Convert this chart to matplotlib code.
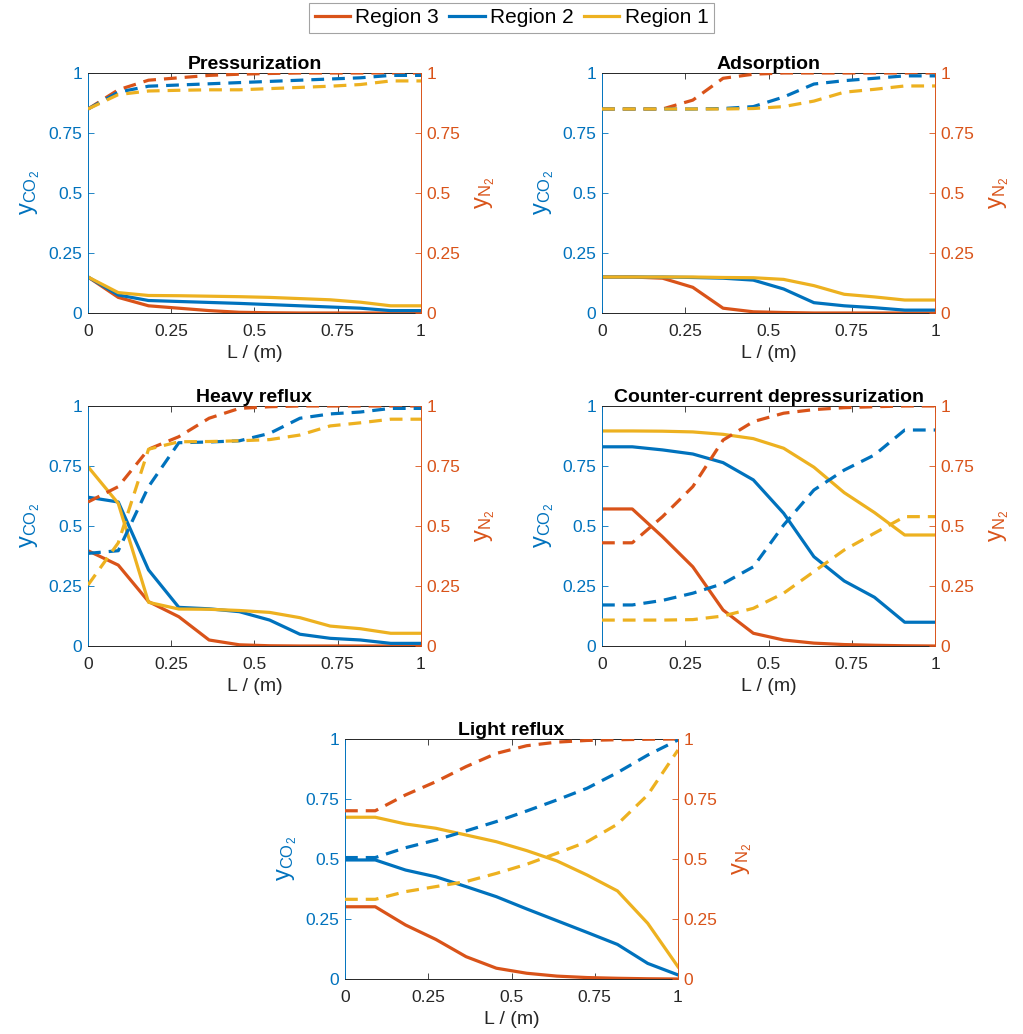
import matplotlib.pyplot as plt

plt.rcParams['font.family'] = ['Liberation Sans', 'DejaVu Sans']
plt.rcParams['mathtext.fontset'] = 'custom'
plt.rcParams['mathtext.rm'] = 'Liberation Sans'
plt.rcParams['mathtext.it'] = 'Liberation Sans'

# column position (m)
L = [0, 0.0909, 0.1818, 0.2727, 0.3636, 0.4545, 0.5455, 0.6364, 0.7273, 0.8182, 0.9091, 1.0]

regions = ['Region 3', 'Region 2', 'Region 1']

# Pressurization
pres_co2_r3 = [0.15, 0.065, 0.03, 0.02, 0.01, 0.003, 0.001, 0, 0, 0, 0, 0]
pres_co2_r2 = [0.15, 0.075, 0.052, 0.048, 0.044, 0.04, 0.035, 0.03, 0.025, 0.02, 0.01, 0.01]
pres_co2_r1 = [0.15, 0.085, 0.073, 0.072, 0.07, 0.068, 0.065, 0.06, 0.055, 0.045, 0.03, 0.03]
pres_n2_r3 = [0.85, 0.93, 0.97, 0.98, 0.99, 0.995, 0.998, 1, 1, 1, 1, 1]
pres_n2_r2 = [0.85, 0.92, 0.945, 0.95, 0.955, 0.96, 0.965, 0.97, 0.975, 0.98, 0.99, 0.99]
pres_n2_r1 = [0.85, 0.91, 0.925, 0.928, 0.93, 0.93, 0.935, 0.94, 0.945, 0.952, 0.967, 0.967]

# Adsorption
ads_co2_r3 = [0.15, 0.15, 0.145, 0.107, 0.02, 0.005, 0.002, 0, 0, 0, 0, 0]
ads_co2_r2 = [0.15, 0.15, 0.15, 0.148, 0.145, 0.137, 0.1, 0.043, 0.03, 0.022, 0.012, 0.012]
ads_co2_r1 = [0.15, 0.15, 0.15, 0.15, 0.148, 0.147, 0.14, 0.114, 0.078, 0.067, 0.054, 0.054]
ads_n2_r3 = [0.85, 0.85, 0.85, 0.887, 0.978, 0.995, 1, 1, 1, 1, 1, 1]
ads_n2_r2 = [0.85, 0.85, 0.85, 0.85, 0.852, 0.86, 0.9, 0.954, 0.968, 0.978, 0.988, 0.988]
ads_n2_r1 = [0.85, 0.85, 0.85, 0.85, 0.85, 0.852, 0.86, 0.883, 0.92, 0.932, 0.946, 0.946]

# Heavy reflux
hr_co2_r3 = [0.397, 0.337, 0.185, 0.122, 0.025, 0.005, 0.001, 0, 0, 0, 0, 0]
hr_co2_r2 = [0.62, 0.6, 0.317, 0.161, 0.155, 0.143, 0.108, 0.049, 0.032, 0.025, 0.011, 0.011]
hr_co2_r1 = [0.747, 0.594, 0.182, 0.154, 0.153, 0.148, 0.14, 0.118, 0.083, 0.072, 0.053, 0.053]
hr_n2_r3 = [0.6, 0.664, 0.82, 0.872, 0.949, 0.99, 0.997, 1, 1, 1, 1, 1]
hr_n2_r2 = [0.386, 0.397, 0.664, 0.847, 0.85, 0.855, 0.886, 0.949, 0.967, 0.975, 0.99, 0.99]
hr_n2_r1 = [0.254, 0.43, 0.82, 0.851, 0.852, 0.855, 0.86, 0.879, 0.917, 0.93, 0.945, 0.945]

# Counter-current depressurization
cc_co2_r3 = [0.571, 0.571, 0.455, 0.33, 0.15, 0.053, 0.025, 0.012, 0.006, 0.003, 0.001, 0]
cc_co2_r2 = [0.83, 0.83, 0.817, 0.8, 0.764, 0.692, 0.553, 0.372, 0.271, 0.203, 0.099, 0.099]
cc_co2_r1 = [0.896, 0.896, 0.895, 0.892, 0.882, 0.864, 0.824, 0.745, 0.639, 0.556, 0.4625, 0.4625]
cc_n2_r3 = [0.43, 0.43, 0.539, 0.664, 0.858, 0.935, 0.97, 0.985, 0.993, 0.997, 1, 1]
cc_n2_r2 = [0.171, 0.171, 0.19, 0.22, 0.26, 0.33, 0.504, 0.65, 0.733, 0.796, 0.9, 0.9]
cc_n2_r1 = [0.108, 0.108, 0.108, 0.11, 0.125, 0.157, 0.22, 0.31, 0.4, 0.47, 0.539, 0.539]

# Light reflux
lr_co2_r3 = [0.301, 0.301, 0.225, 0.165, 0.093, 0.045, 0.024, 0.012, 0.006, 0.003, 0.001, 0]
lr_co2_r2 = [0.496, 0.496, 0.454, 0.426, 0.385, 0.343, 0.292, 0.243, 0.194, 0.144, 0.065, 0.017]
lr_co2_r1 = [0.674, 0.674, 0.646, 0.628, 0.6, 0.572, 0.535, 0.492, 0.433, 0.367, 0.232, 0.051]
lr_n2_r3 = [0.701, 0.701, 0.767, 0.822, 0.885, 0.94, 0.972, 0.987, 0.994, 0.997, 0.999, 1]
lr_n2_r2 = [0.506, 0.506, 0.547, 0.579, 0.617, 0.656, 0.7, 0.746, 0.795, 0.86, 0.933, 0.996]
lr_n2_r1 = [0.332, 0.332, 0.364, 0.385, 0.406, 0.44, 0.478, 0.524, 0.572, 0.645, 0.767, 0.954]

blue = '#0072BD'
orange = '#D95319'
yellow = '#EDB120'
dark = '#262626'
colors = [orange, blue, yellow]

ticks = [0, 0.25, 0.5, 0.75, 1]
tick_labels = ['0', '0.25', '0.5', '0.75', '1']

fig = plt.figure(figsize=(10.23, 10.34), dpi=100)


def panel(rect, title, co2, n2):
    ax = fig.add_axes(rect)
    ax2 = ax.twinx()
    lines = []
    for y, c in zip(co2, colors):
        ln, = ax.plot(L, y, color=c, lw=2.3)
        lines.append(ln)
    for y, c in zip(n2, colors):
        ax2.plot(L, y, color=c, lw=2.3, dashes=(4, 2.5))
    for a in (ax, ax2):
        a.set_xlim(0, 1)
        a.set_ylim(0, 1)
        a.set_yticks(ticks)
    ax.set_xticks(ticks)
    ax.set_xticklabels(tick_labels)
    ax.set_yticklabels(tick_labels)
    ax2.set_yticklabels(tick_labels)
    ax.tick_params(axis='x', direction='in', top=True, colors=dark, labelsize=12.5,
                   length=4, width=0.6, pad=8)
    ax.tick_params(axis='y', direction='in', colors=blue, labelsize=12.5,
                   length=4, width=0.6, pad=4)
    ax2.tick_params(axis='y', direction='in', colors=orange, labelsize=12.5,
                    length=4, width=0.6, pad=4)
    ax.spines['left'].set_color(blue)
    ax.spines['right'].set_visible(False)
    ax.spines['top'].set_color(dark)
    ax.spines['bottom'].set_color(dark)
    ax2.spines['left'].set_visible(False)
    ax2.spines['top'].set_visible(False)
    ax2.spines['bottom'].set_visible(False)
    ax2.spines['right'].set_color(orange)
    for s in ax.spines.values():
        s.set_linewidth(0.7)
    ax2.spines['right'].set_linewidth(0.7)
    ax.set_xlabel('L / (m)', fontsize=14, color=dark, labelpad=4)
    ax.set_ylabel(r'$\mathregular{y_{CO_2}}$', fontsize=17, color=blue, labelpad=5)
    ax2.set_ylabel(r'$\mathregular{y_{N_2}}$', fontsize=17, color=orange, rotation=90, labelpad=9)
    ax.set_title(title, fontsize=14, fontweight='bold', pad=2)
    return lines


w = 333 / 1023
h = 240 / 1034
lines = panel([88 / 1023, 1 - 313 / 1034, w, h], 'Pressurization',
              [pres_co2_r3, pres_co2_r2, pres_co2_r1], [pres_n2_r3, pres_n2_r2, pres_n2_r1])
panel([602 / 1023, 1 - 313 / 1034, w, h], 'Adsorption',
      [ads_co2_r3, ads_co2_r2, ads_co2_r1], [ads_n2_r3, ads_n2_r2, ads_n2_r1])
panel([88 / 1023, 1 - 646 / 1034, w, h], 'Heavy reflux',
      [hr_co2_r3, hr_co2_r2, hr_co2_r1], [hr_n2_r3, hr_n2_r2, hr_n2_r1])
panel([602 / 1023, 1 - 646 / 1034, w, h], 'Counter-current depressurization',
      [cc_co2_r3, cc_co2_r2, cc_co2_r1], [cc_n2_r3, cc_n2_r2, cc_n2_r1])
panel([345 / 1023, 1 - 979 / 1034, w, h], 'Light reflux',
      [lr_co2_r3, lr_co2_r2, lr_co2_r1], [lr_n2_r3, lr_n2_r2, lr_n2_r1])

leg = fig.legend(lines, regions, loc='upper center', bbox_to_anchor=(0.5, 1.0), ncol=3,
                 fontsize=15, frameon=True, fancybox=False, edgecolor='#8c8c8c',
                 handlelength=1.7, handletextpad=0.25, columnspacing=0.5,
                 borderpad=0.25, borderaxespad=0.15)
leg.get_frame().set_linewidth(0.8)

fig.savefig('out.png', dpi=100, facecolor='white')
